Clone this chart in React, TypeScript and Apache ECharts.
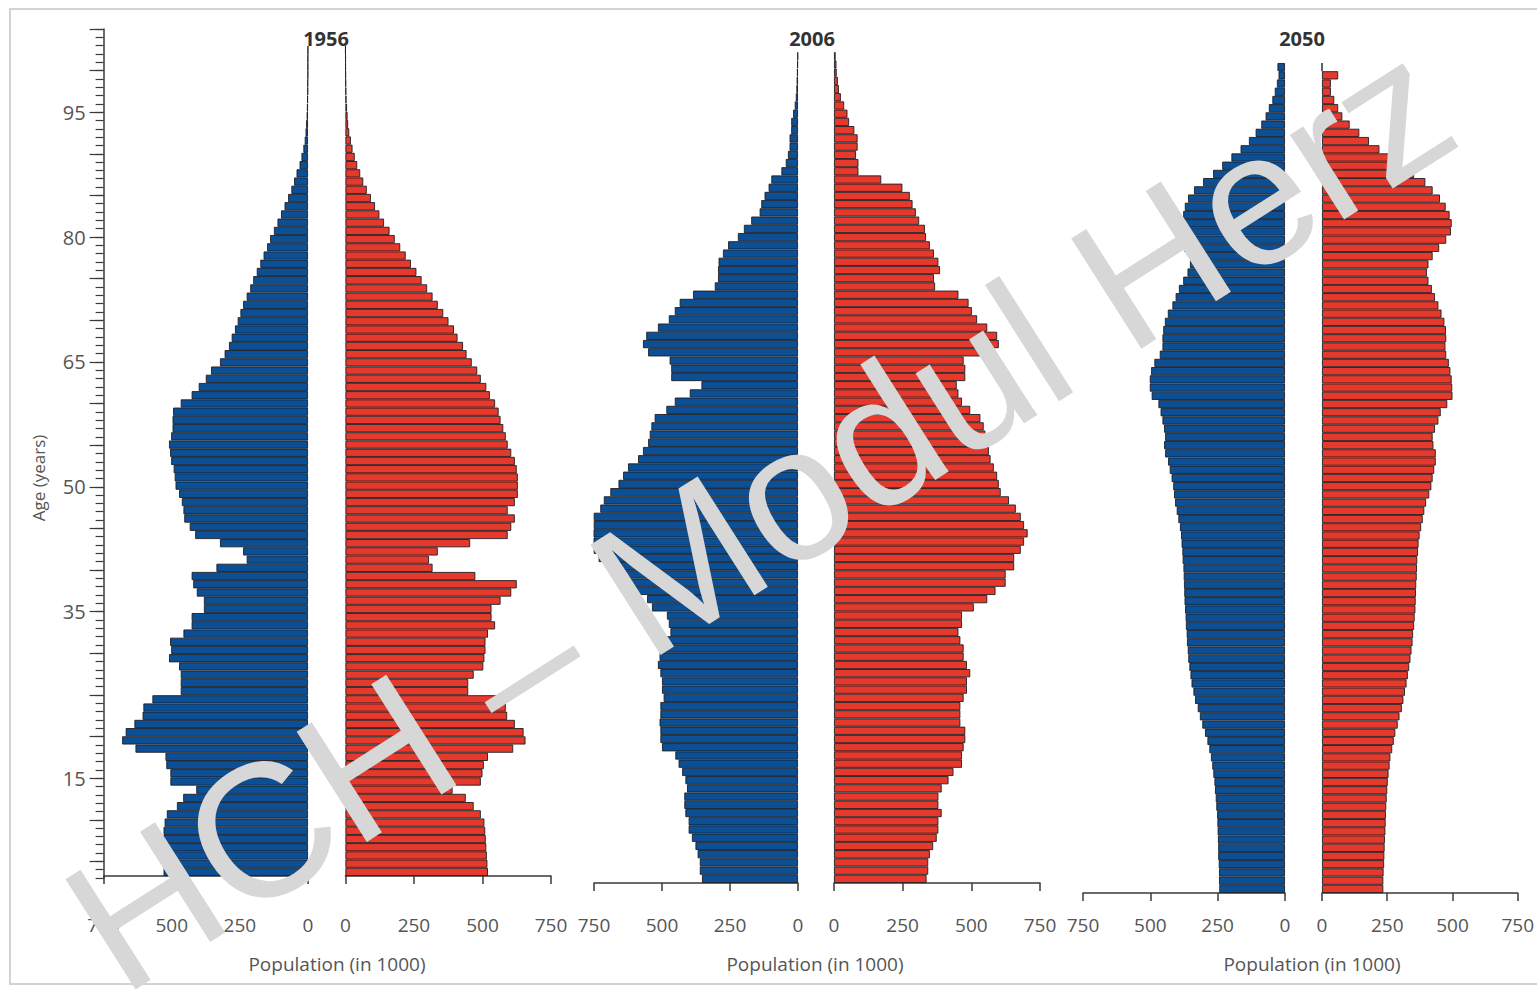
import React, { useEffect, useRef } from "react";
import * as echarts from "echarts";

// ages 0..100 (categories)
const ages: string[] = [
  "0","1","2","3","4","5","6","7","8","9","10","11","12","13","14","15","16","17","18","19",
  "20","21","22","23","24","25","26","27","28","29","30","31","32","33","34","35","36","37","38","39",
  "40","41","42","43","44","45","46","47","48","49","50","51","52","53","54","55","56","57","58","59",
  "60","61","62","63","64","65","66","67","68","69","70","71","72","73","74","75","76","77","78","79",
  "80","81","82","83","84","85","86","87","88","89","90","91","92","93","94","95","96","97","98","99","100",
];

const years = ["1956", "2006", "2050"];
const popTicks = [0, 250, 500, 750];
const ageTickLabels = [15, 35, 50, 65, 80, 95];

// population (in 1000) by single year of age, 0..100
const male1956 = [
  530, 531, 532, 532, 531, 530, 526, 518, 481, 458, 410, 505, 505, 520, 523, 633, 682, 669, 637, 607,
  604, 571, 467, 467, 467, 473, 510, 502, 506, 457, 427, 427, 382, 382, 408, 421, 427, 336, 225, 238,
  323, 414, 434, 454, 457, 463, 473, 486, 489, 493, 502, 506, 510, 502, 497, 497, 495, 467, 427, 401,
  375, 356, 323, 306, 290, 280, 268, 258, 248, 238, 225, 212, 201, 188, 175, 163, 150, 139, 125, 112,
  99, 86, 73, 61, 51, 42, 31, 24, 17, 12, 9, 7, 5, 4, 3, 2, 2, 1, 1, 1, 0.5,
];
const female1956 = [
  520, 518, 516, 514, 512, 510, 507, 494, 468, 439, 391, 494, 500, 505, 520, 612, 657, 650, 618, 590,
  585, 553, 448, 448, 468, 503, 507, 511, 511, 520, 546, 533, 533, 566, 605, 625, 474, 318, 305, 337,
  455, 592, 605, 618, 592, 618, 629, 629, 629, 625, 618, 605, 592, 585, 576, 566, 559, 546, 527, 514,
  494, 481, 461, 442, 429, 409, 396, 376, 357, 337, 318, 298, 278, 259, 239, 220, 200, 180, 161, 141,
  124, 108, 93, 78, 65, 54, 43, 34, 26, 20, 14, 10, 8, 6, 4, 3, 2, 1.5, 1, 1, 0.5,
];
const male2006 = [
  353, 361, 361, 369, 377, 390, 402, 402, 414, 418, 418, 408, 414, 426, 439, 451, 500, 506, 506, 509,
  506, 506, 494, 500, 500, 506, 515, 509, 509, 484, 469, 475, 482, 537, 555, 629, 629, 665, 696, 733,
  751, 757, 757, 751, 751, 727, 714, 690, 660, 643, 625, 588, 570, 551, 545, 539, 527, 484, 453, 398,
  355, 466, 466, 472, 551, 570, 558, 515, 475, 453, 435, 386, 306, 294, 294, 292, 276, 257, 221, 199,
  172, 141, 135, 123, 108, 98, 61, 45, 37, 31, 31, 25, 25, 18, 12, 8, 6, 5, 4, 3, 2,
];
const female2006 = [
  337, 343, 343, 349, 361, 374, 380, 380, 392, 380, 380, 392, 417, 435, 466, 466, 472, 478, 478, 460,
  460, 460, 472, 484, 484, 496, 484, 472, 472, 460, 453, 466, 466, 509, 558, 588, 625, 625, 656, 656,
  680, 692, 705, 692, 680, 662, 637, 607, 600, 594, 582, 570, 564, 558, 551, 545, 533, 496, 466, 453,
  447, 478, 478, 472, 564, 600, 594, 558, 521, 502, 490, 453, 368, 364, 386, 380, 364, 349, 335, 331,
  310, 298, 286, 276, 249, 172, 89, 89, 80, 86, 86, 74, 55, 49, 37, 25, 18, 14, 10, 9, 6,
];
const male2050 = [
  244, 245, 245, 246, 248, 248, 249, 250, 251, 252, 255, 257, 260, 262, 266, 270, 275, 281, 288, 297,
  307, 316, 324, 334, 340, 347, 351, 355, 359, 361, 364, 365, 368, 369, 371, 373, 374, 375, 376, 377,
  380, 381, 384, 386, 390, 396, 402, 408, 412, 415, 421, 428, 434, 445, 449, 445, 449, 455, 462, 470,
  495, 502, 502, 497, 485, 465, 455, 455, 452, 446, 435, 418, 406, 394, 378, 362, 353, 353, 375, 394,
  390, 381, 378, 372, 360, 338, 304, 267, 233, 199, 165, 134, 109, 88, 72, 60, 47, 38, 30, 24, 28,
];
const female2050 = [
  235, 235, 236, 238, 239, 240, 241, 243, 244, 245, 246, 248, 250, 252, 255, 259, 262, 269, 275, 281,
  290, 297, 306, 312, 318, 324, 329, 334, 339, 343, 347, 349, 353, 355, 358, 359, 360, 361, 363, 364,
  365, 368, 370, 374, 380, 386, 392, 399, 411, 419, 424, 430, 436, 436, 427, 424, 433, 446, 455, 480,
  500, 499, 497, 492, 486, 476, 473, 476, 475, 469, 458, 446, 433, 421, 408, 402, 408, 424, 449, 476,
  494, 497, 489, 474, 452, 424, 396, 353, 300, 260, 220, 180, 143, 106, 78, 62, 47, 34, 34, 62, 0,
];

const BLUE = "#0b5096";
const RED = "#e6392b";
const EDGE = "#1e1e24";
const AXIS = "#3a3a3a";
const LABEL = "#555555";
const FONT = "'Open Sans', 'Noto Sans', sans-serif";

export default function App() {
  const ref = useRef<HTMLDivElement | null>(null);

  useEffect(() => {
    if (!ref.current) return;
    const chart = echarts.init(ref.current, undefined, { renderer: "svg" });

    // layout per panel (pixels)
    const panels = [
      { maleL: 103.6, maleW: 204.4, femL: 345.4, femW: 205.6, top: 46, h: 830, margin: 39.5, male: male1956, female: female1956, titleX: 326, popX: 337 },
      { maleL: 594, maleW: 204, femL: 834, femW: 206, top: 52, h: 831, margin: 32.5, male: male2006, female: female2006, titleX: 812, popX: 815 },
      { maleL: 1083, maleW: 202, femL: 1322, femW: 204, top: 63, h: 830, margin: 22.5, male: male2050, female: female2050, titleX: 1302, popX: 1312 },
    ];

    const grids: any[] = [];
    const xAxes: any[] = [];
    const yAxes: any[] = [];
    const series: any[] = [];

    const popAxis = (idx: number, inverse: boolean, margin: number) => ({
      type: "value",
      gridIndex: idx,
      min: popTicks[0],
      max: popTicks[popTicks.length - 1],
      interval: popTicks[1] - popTicks[0],
      inverse,
      position: "bottom",
      axisLine: { show: true, lineStyle: { color: AXIS, width: 1.5 } },
      axisTick: { show: true, length: 8, lineStyle: { color: AXIS, width: 1.5 } },
      axisLabel: { show: true, margin, fontSize: 19, color: LABEL, fontFamily: FONT },
      splitLine: { show: false },
    });

    panels.forEach((p, i) => {
      const gm = i * 2;
      const gf = i * 2 + 1;
      grids.push({ left: p.maleL, top: p.top, width: p.maleW, height: p.h });
      grids.push({ left: p.femL, top: p.top, width: p.femW, height: p.h });
      xAxes.push(popAxis(gm, true, p.margin));
      xAxes.push(popAxis(gf, false, p.margin));
      yAxes.push({ type: "category", gridIndex: gm, data: ages, show: false });
      yAxes.push({ type: "category", gridIndex: gf, data: ages, show: false });
      series.push({
        type: "bar", name: "Männer " + years[i], xAxisIndex: gm, yAxisIndex: gm, data: p.male,
        barCategoryGap: "0%", silent: true,
        itemStyle: { color: BLUE, borderColor: EDGE, borderWidth: 0.9 },
      });
      series.push({
        type: "bar", name: "Frauen " + years[i], xAxisIndex: gf, yAxisIndex: gf, data: p.female,
        barCategoryGap: "0%", silent: true,
        itemStyle: { color: RED, borderColor: EDGE, borderWidth: 0.9 },
      });
    });

    // Age axis (1956 panel): labelled scale, y = 903 - 8.325 * age
    const ageY = (a: number) => 903 - 8.325 * a;
    // minor ticks grid (3..105, every year)
    grids.push({ left: 103.6, top: ageY(105), width: 204.4, height: ageY(3) - ageY(105) });
    xAxes.push({ type: "value", gridIndex: 6, show: false });
    yAxes.push({
      type: "value", gridIndex: 6, min: 3, max: 105, interval: 1, position: "left",
      axisLine: { show: true, lineStyle: { color: AXIS, width: 1.5 } },
      axisTick: { show: true, length: 8, lineStyle: { color: AXIS, width: 1.2 } },
      axisLabel: {
        show: true, margin: 18, fontSize: 20, color: LABEL, fontFamily: FONT,
        formatter: (v: number) => (ageTickLabels.indexOf(Math.round(v)) >= 0 ? String(Math.round(v)) : ""),
      },
      splitLine: { show: false },
    });
    // major ticks grid (5..105, every 5 years)
    grids.push({ left: 103.6, top: ageY(105), width: 204.4, height: ageY(5) - ageY(105) });
    xAxes.push({ type: "value", gridIndex: 7, show: false });
    yAxes.push({
      type: "value", gridIndex: 7, min: 5, max: 105, interval: 5, position: "left",
      axisLine: { show: false },
      axisTick: { show: true, length: 14, lineStyle: { color: AXIS, width: 1.2 } },
      axisLabel: { show: false },
      splitLine: { show: false },
    });

    const graphic: any[] = [
      {
        type: "rect", silent: true, z: -10,
        shape: { x: 10, y: 9, width: 1580, height: 975 },
        style: { fill: "none", stroke: "#cdd6d6", lineWidth: 2 },
      },
      {
        type: "text", x: 38, y: 478, rotation: Math.PI / 2, silent: true,
        style: { text: "Age (years)", fontSize: 17, fontFamily: FONT, fill: LABEL, align: "center", verticalAlign: "middle" },
      },
    ];
    panels.forEach((p, i) => {
      graphic.push({
        type: "text", x: p.titleX, y: 38, silent: true,
        style: { text: years[i], fontSize: 20, fontWeight: "bold", fontFamily: FONT, fill: "#333", align: "center", verticalAlign: "middle" },
      });
      graphic.push({
        type: "text", x: p.popX, y: 964, silent: true,
        style: { text: "Population (in 1000)", fontSize: 19, fontFamily: FONT, fill: LABEL, align: "center", verticalAlign: "middle" },
      });
    });
    graphic.push({
      type: "text", x: 759, y: 514, rotation: (32.5 * Math.PI) / 180, silent: true, z: 100,
      style: {
        text: "HCH – Modul Herz", fontSize: 190, fontFamily: "'Liberation Sans', Arial, sans-serif",
        fill: "#d7d7d7", align: "center", verticalAlign: "middle",
      },
    });

    chart.setOption({
      animation: false,
      backgroundColor: "#ffffff",
      grid: grids,
      xAxis: xAxes,
      yAxis: yAxes,
      series,
      graphic,
    });

    return () => chart.dispose();
  }, []);

  return (
    <div
      ref={ref}
      style={{ position: "fixed", left: 0, top: 0, width: 1537, height: 989, background: "#fff" }}
    />
  );
}
